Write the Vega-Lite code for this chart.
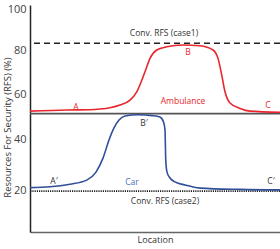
{
  "$schema": "https://vega.github.io/schema/vega-lite/v6.json",
  "width": 250,
  "height": 227,
  "autosize": {"type": "none"},
  "padding": {"left": 30, "top": 5, "right": 0, "bottom": 17},
  "background": "white",
  "config": {
    "view": {"stroke": null},
    "font": "Open Sans"
  },
  "datasets": {
    "curves": [
      {"series": "Ambulance", "x": 0, "y": 52.4},
      {"series": "Ambulance", "x": 14.8, "y": 52.9},
      {"series": "Ambulance", "x": 24, "y": 53.0},
      {"series": "Ambulance", "x": 28, "y": 53.3},
      {"series": "Ambulance", "x": 32, "y": 53.9},
      {"series": "Ambulance", "x": 36, "y": 55.1},
      {"series": "Ambulance", "x": 40, "y": 57.3},
      {"series": "Ambulance", "x": 42.7, "y": 61.0},
      {"series": "Ambulance", "x": 46, "y": 70.1},
      {"series": "Ambulance", "x": 48, "y": 76.2},
      {"series": "Ambulance", "x": 50.7, "y": 80.0},
      {"series": "Ambulance", "x": 54.7, "y": 81.6},
      {"series": "Ambulance", "x": 61.2, "y": 82.5},
      {"series": "Ambulance", "x": 68, "y": 82.1},
      {"series": "Ambulance", "x": 73.2, "y": 80.0},
      {"series": "Ambulance", "x": 75.2, "y": 76.2},
      {"series": "Ambulance", "x": 76.7, "y": 68.6},
      {"series": "Ambulance", "x": 78, "y": 61.0},
      {"series": "Ambulance", "x": 80, "y": 56.0},
      {"series": "Ambulance", "x": 84, "y": 53.6},
      {"series": "Ambulance", "x": 88, "y": 52.4},
      {"series": "Ambulance", "x": 100, "y": 51.9},
      {"series": "Car", "x": 0, "y": 21.2},
      {"series": "Car", "x": 8, "y": 21.5},
      {"series": "Car", "x": 16, "y": 22.5},
      {"series": "Car", "x": 22.7, "y": 24.1},
      {"series": "Car", "x": 26.4, "y": 27.2},
      {"series": "Car", "x": 29.2, "y": 32.6},
      {"series": "Car", "x": 31.6, "y": 39.6},
      {"series": "Car", "x": 33.6, "y": 44.9},
      {"series": "Car", "x": 35.6, "y": 48.4},
      {"series": "Car", "x": 38, "y": 50.2},
      {"series": "Car", "x": 43.2, "y": 50.8},
      {"series": "Car", "x": 48.8, "y": 50.4},
      {"series": "Car", "x": 52, "y": 49.8},
      {"series": "Car", "x": 53.4, "y": 47.6},
      {"series": "Car", "x": 54, "y": 44.0},
      {"series": "Car", "x": 54.15, "y": 37.7},
      {"series": "Car", "x": 54.3, "y": 31.9},
      {"series": "Car", "x": 54.8, "y": 27.2},
      {"series": "Car", "x": 56, "y": 24.9},
      {"series": "Car", "x": 58, "y": 23.4},
      {"series": "Car", "x": 62, "y": 22.2},
      {"series": "Car", "x": 68, "y": 21.0},
      {"series": "Car", "x": 84, "y": 20.5},
      {"series": "Car", "x": 100, "y": 20.3}
    ],
    "labels": [
      {"text": "Conv. RFS (case1)", "x": 53.6, "y": 88.4, "kind": "dark"},
      {"text": "Conv. RFS (case2)", "x": 54, "y": 15.0, "kind": "dark"},
      {"text": "B", "x": 63.2, "y": 79.2, "kind": "red"},
      {"text": "A", "x": 18.4, "y": 54.4, "kind": "red"},
      {"text": "C", "x": 95.2, "y": 55.1, "kind": "red"},
      {"text": "Ambulance", "x": 61.2, "y": 56.9, "kind": "red"},
      {"text": "B′", "x": 45.6, "y": 47.1, "kind": "dark"},
      {"text": "A′", "x": 9.6, "y": 23.8, "kind": "dark"},
      {"text": "C′", "x": 96.4, "y": 23.8, "kind": "dark"},
      {"text": "Car", "x": 40.8, "y": 23.4, "kind": "blue"}
    ],
    "refs": [
      {"name": "case1", "y": 83.3},
      {"name": "base", "y": 51.3},
      {"name": "case2", "y": 19.8}
    ]
  },
  "encoding": {
    "y": {
      "field": "y",
      "type": "quantitative",
      "scale": {
        "domain": [0, 20, 40, 60, 80, 100, 102.5],
        "range": [227, 185.7, 134, 89, 45, 4.7, 0],
        "nice": false,
        "zero": false
      },
      "axis": {
        "values": [20, 40, 60, 80, 100],
        "ticks": false,
        "grid": false,
        "labelPadding": 4,
        "labelFontSize": 11,
        "labelColor": "#444",
        "labelFont": "Open Sans",
        "domainColor": "#222",
        "domainWidth": 1.5,
        "title": "Resources For Security (RFS) (%)",
        "titleFontSize": 9.5,
        "titleFontWeight": "normal",
        "titleColor": "#333",
        "titleX": -18,
        "titleY": 122
      }
    }
  },
  "layer": [
    {
      "data": {"name": "refs"},
      "transform": [{"filter": "datum.name === 'case1'"}],
      "mark": {"type": "rule", "color": "#222", "strokeWidth": 1.5, "strokeDash": [6, 4]},
      "encoding": {}
    },
    {
      "data": {"name": "refs"},
      "transform": [{"filter": "datum.name === 'base'"}],
      "mark": {"type": "rule", "color": "#555", "strokeWidth": 1.6},
      "encoding": {}
    },
    {
      "data": {"name": "refs"},
      "transform": [{"filter": "datum.name === 'case2'"}],
      "mark": {"type": "rule", "color": "#222", "strokeWidth": 1.6, "strokeDash": [1.2, 1]},
      "encoding": {}
    },
    {
      "data": {"name": "curves"},
      "transform": [{"filter": "datum.series === 'Ambulance'"}],
      "mark": {"type": "line", "interpolate": "monotone", "strokeWidth": 1.6, "color": "#e8262e"},
      "encoding": {
        "x": {
          "field": "x",
          "type": "quantitative",
          "scale": {"domain": [0, 100], "nice": false, "zero": false},
          "axis": {
            "labels": false,
            "ticks": false,
            "grid": false,
            "domainColor": "#666",
            "domainWidth": 1.5,
            "title": "Location",
            "titleFontSize": 9,
            "titleFontWeight": "normal",
            "titleColor": "#333",
            "titlePadding": 3
          }
        }
      }
    },
    {
      "data": {"name": "curves"},
      "transform": [{"filter": "datum.series === 'Car'"}],
      "mark": {"type": "line", "interpolate": "monotone", "strokeWidth": 1.6, "color": "#2f4f98"},
      "encoding": {
        "x": {"field": "x", "type": "quantitative"}
      }
    },
    {
      "data": {"name": "labels"},
      "transform": [{"filter": "datum.kind === 'dark'"}],
      "mark": {"type": "text", "fontSize": 8.5, "font": "Open Sans", "color": "#333333"},
      "encoding": {
        "x": {"field": "x", "type": "quantitative"},
        "text": {"field": "text"}
      }
    },
    {
      "data": {"name": "labels"},
      "transform": [{"filter": "datum.kind === 'red'"}],
      "mark": {"type": "text", "fontSize": 8.5, "font": "Open Sans", "color": "#e8262e"},
      "encoding": {
        "x": {"field": "x", "type": "quantitative"},
        "text": {"field": "text"}
      }
    },
    {
      "data": {"name": "labels"},
      "transform": [{"filter": "datum.kind === 'blue'"}],
      "mark": {"type": "text", "fontSize": 8.5, "font": "Open Sans", "color": "#4a6fc0"},
      "encoding": {
        "x": {"field": "x", "type": "quantitative"},
        "text": {"field": "text"}
      }
    }
  ]
}
